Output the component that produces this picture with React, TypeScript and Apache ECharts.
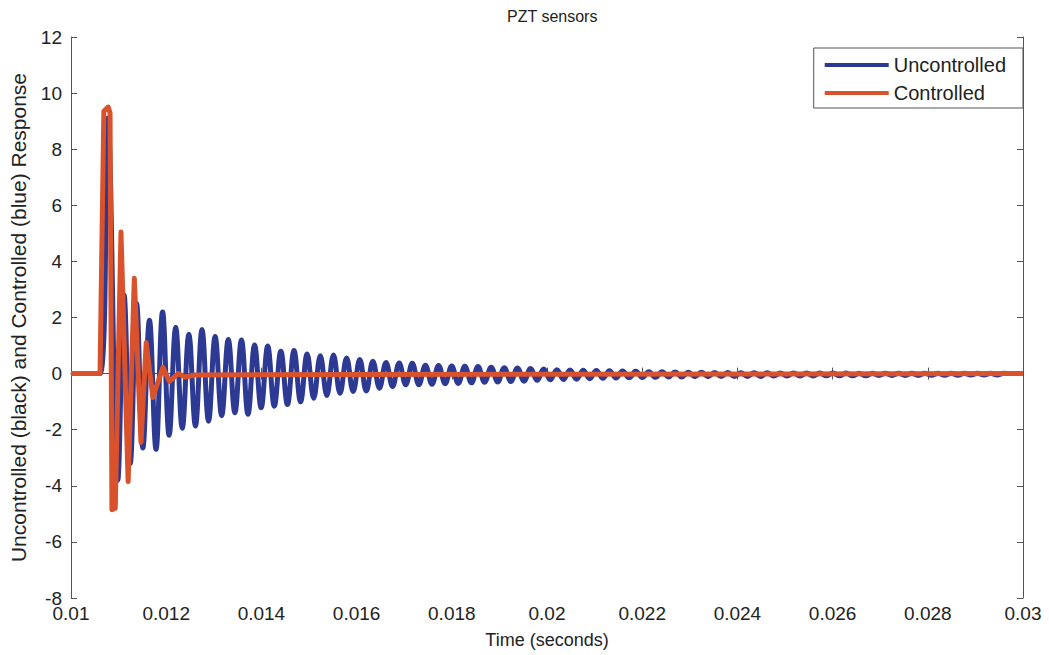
import React, { useEffect, useRef } from "react";
import * as echarts from "echarts";

// ---- Data (time in milliseconds) ----
const uncontrolledTimeMs = [
  10.0, 10.61, 10.77, 10.983, 11.115, 11.245, 11.378,
  11.51, 11.648, 11.786, 11.924, 12.062, 12.2, 12.338, 12.476, 12.614, 12.752,
  12.89, 13.028, 13.166, 13.305, 13.443, 13.581, 13.719, 13.857, 13.995, 14.133,
  14.271, 14.409, 14.547, 14.685, 14.823, 14.961, 15.099, 15.237, 15.375, 15.514,
  15.652, 15.79, 15.928, 16.066, 16.204, 16.342, 16.48, 16.618, 16.756, 16.894,
  17.032, 17.17, 17.308, 17.446,
  17.584, 17.722, 17.86, 17.998, 18.136, 18.274, 18.413, 18.551, 18.689, 18.827,
  18.965, 19.103, 19.241, 19.379, 19.517, 19.655, 19.793, 19.931, 20.069, 20.207,
  20.346, 20.484, 20.622, 20.76, 20.898, 21.036, 21.174, 21.312, 21.45, 21.588,
  21.726, 21.864, 22.002, 22.14, 22.279, 22.417, 22.555, 22.693, 22.831, 22.969,
  23.107, 23.245, 23.383, 23.521, 23.659, 23.797, 23.935, 24.073, 24.212, 24.35,
  24.488, 24.626, 24.764, 24.902, 25.04, 25.178, 25.316, 25.454, 25.592, 25.73,
  25.868, 26.006, 26.145, 26.283, 26.421, 26.559, 26.697, 26.835, 26.973, 27.111,
  27.249, 27.387, 27.525, 27.663, 27.801, 27.939, 28.078, 28.216, 28.354, 28.492,
  28.63, 28.768, 28.906, 29.044, 29.182, 29.32, 29.458, 29.596,
  29.75, 30.0,
];
const uncontrolledValue = [
  0, 0, 9.1, -3.8, 2.8, -3.2, 2.5,
  -2.65, 1.9, -2.7, 2.2, -2.2, 1.65, -1.95, 1.4, -1.87, 1.57,
  -1.7, 1.32, -1.5, 1.22, -1.4, 1.2, -1.45, 1.02, -1.22, 0.98,
  -1.16, 0.8, -1.1, 0.82, -1.0, 0.7, -0.88, 0.64, -0.78, 0.66,
  -0.7, 0.56, -0.64, 0.5, -0.62, 0.44, -0.52, 0.4, -0.46, 0.38,
  -0.4, 0.37, -0.4, 0.3,
  -0.38, 0.29, -0.36, 0.27, -0.35, 0.26, -0.33, 0.25, -0.31, 0.23,
  -0.3, 0.21, -0.28, 0.2, -0.27, 0.18, -0.24, 0.16, -0.22, 0.14,
  -0.21, 0.13, -0.2, 0.12, -0.18, 0.11, -0.17, 0.1, -0.16, 0.09,
  -0.15, 0.08, -0.14, 0.07, -0.13, 0.07, -0.12, 0.06, -0.12, 0.05,
  -0.11, 0.05, -0.11, 0.04, -0.1, 0.04, -0.1, 0.03, -0.1, 0.03,
  -0.1, 0.03, -0.09, 0.02, -0.09, 0.02, -0.09, 0.02, -0.09, 0.02,
  -0.08, 0.02, -0.08, 0.02, -0.08, 0.01, -0.08, 0.01, -0.07, 0.01,
  -0.07, 0.01, -0.07, 0.01, -0.07, 0.01, -0.06, 0.01, -0.06, 0.01,
  -0.06, 0.01, -0.05, 0.01, -0.05, 0.01, -0.05, 0.01,
  0, 0,
];

const controlledTimeMs = [
  10.0, 10.61, 10.69, 10.78, 10.82, 10.86, 10.93, 11.05, 11.2, 11.33,
  11.47, 11.58, 11.72, 11.93, 12.07, 12.25, 12.4, 12.6, 16.0, 30.0,
];
const controlledValue = [
  0, 0, 9.35, 9.5, 9.3, -4.85, -4.8, 5.05, -3.85, 3.4,
  -2.45, 1.1, -0.85, 0.22, -0.28, 0.0, -0.12, -0.05, -0.03, 0,
];

const seriesNames = ["Uncontrolled", "Controlled"];
const seriesColors = ["#2d3a93", "#d9522b"];

const xMin = 0.01;
const xMax = 0.03;
const xStep = 0.002;
const yMin = -8;
const yMax = 12;
const yStep = 2;

const FONT = "'Liberation Sans', Arial, Helvetica, sans-serif";

export default function App() {
  const ref = useRef<HTMLDivElement>(null);

  useEffect(() => {
    if (!ref.current) return;
    const chart = echarts.init(ref.current, null, { renderer: "svg" });

    const toPairs = (ts: number[], vs: number[]) =>
      ts.map((t, i) => [t / 1000, vs[i]]);

    const fmtX = (v: number) => String(parseFloat(v.toFixed(4)));

    const axisLine = { show: true, lineStyle: { color: "#555", width: 1 } };
    const tick = { show: true, inside: true, length: 6, lineStyle: { color: "#555" } };

    chart.setOption({
      animation: false,
      backgroundColor: "#ffffff",
      textStyle: { fontFamily: FONT },
      title: {
        text: "PZT sensors",
        left: 502,
        top: 3,
        textStyle: { fontSize: 16, fontWeight: "normal", color: "#222", fontFamily: FONT },
      },
      grid: { left: 69, right: 26, top: 37, bottom: 57, show: false },
      legend: {
        data: seriesNames,
        orient: "vertical",
        right: 26,
        top: 48,
        icon: "rect",
        itemWidth: 64,
        itemHeight: 4,
        itemGap: 8,
        padding: [7, 17, 5, 11],
        borderColor: "#555",
        borderWidth: 1,
        backgroundColor: "#fff",
        textStyle: { fontSize: 20, color: "#222", fontFamily: FONT },
      },
      xAxis: [
        {
          type: "value",
          min: xMin,
          max: xMax,
          interval: xStep,
          position: "bottom",
          axisLine,
          axisTick: tick,
          splitLine: { show: false },
          axisLabel: {
            formatter: fmtX,
            fontSize: 19,
            color: "#222",
            margin: 6,
            fontFamily: FONT,
          },
          name: "Time (seconds)",
          nameLocation: "middle",
          nameGap: 33,
          nameTextStyle: { fontSize: 18, color: "#222", fontFamily: FONT },
        },
        {
          type: "value",
          min: xMin,
          max: xMax,
          interval: xStep,
          position: "top",
          axisLine,
          axisTick: tick,
          splitLine: { show: false },
          axisLabel: { show: false },
        },
      ],
      yAxis: [
        {
          type: "value",
          min: yMin,
          max: yMax,
          interval: yStep,
          position: "left",
          axisLine,
          axisTick: tick,
          splitLine: { show: false },
          axisLabel: { fontSize: 19, color: "#222", margin: 9, fontFamily: FONT },
          name: "Uncontrolled (black) and Controlled (blue) Response",
          nameLocation: "middle",
          nameGap: 42,
          nameTextStyle: { fontSize: 21, color: "#222", fontFamily: FONT },
        },
        {
          type: "value",
          min: yMin,
          max: yMax,
          interval: yStep,
          position: "right",
          axisLine,
          axisTick: tick,
          splitLine: { show: false },
          axisLabel: { show: false },
        },
      ],
      series: [
        {
          name: seriesNames[0],
          type: "line",
          xAxisIndex: 0,
          yAxisIndex: 0,
          showSymbol: false,
          symbol: "none",
          smooth: 0.4,
          data: toPairs(uncontrolledTimeMs, uncontrolledValue),
          lineStyle: { color: seriesColors[0], width: 5, join: "round" },
          itemStyle: { color: seriesColors[0] },
          z: 2,
        },
        {
          name: seriesNames[1],
          type: "line",
          xAxisIndex: 0,
          yAxisIndex: 0,
          showSymbol: false,
          symbol: "none",
          data: toPairs(controlledTimeMs, controlledValue),
          lineStyle: { color: seriesColors[1], width: 5, join: "round" },
          itemStyle: { color: seriesColors[1] },
          z: 3,
        },
      ],
    });

    return () => chart.dispose();
  }, []);

  return (
    <div
      ref={ref}
      style={{ position: "fixed", left: 0, top: 0, width: 1049, height: 655, background: "#fff" }}
    />
  );
}
